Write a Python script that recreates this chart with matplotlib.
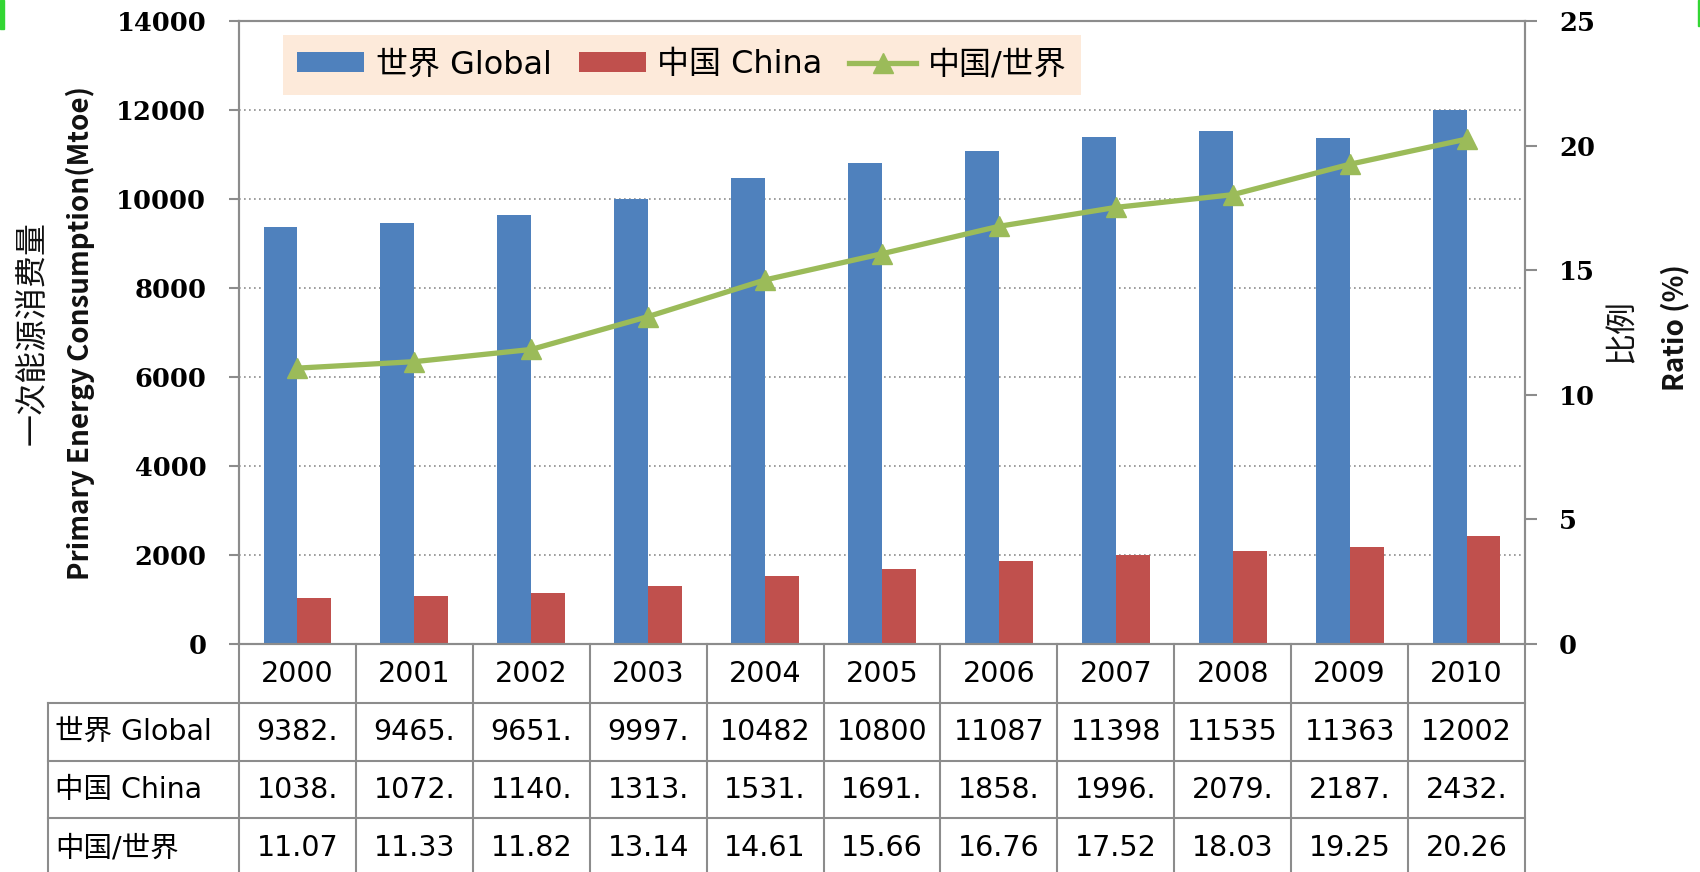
import matplotlib
matplotlib.use("Agg")
import matplotlib.pyplot as plt
from matplotlib.lines import Line2D
from matplotlib.patches import Rectangle

# energy consumption, Mtoe
years = ["2000", "2001", "2002", "2003", "2004", "2005",
         "2006", "2007", "2008", "2009", "2010"]
global_mtoe = [9382, 9465, 9651, 9997, 10482, 10800, 11087, 11398, 11535, 11363, 12002]
china_mtoe = [1038, 1072, 1140, 1313, 1531, 1691, 1858, 1996, 2079, 2187, 2432]
ratio_pct = [11.07, 11.33, 11.82, 13.14, 14.61, 15.66, 16.76, 17.52, 18.03, 19.25, 20.26]
row_names = ["世界 Global", "中国 China", "中国/世界"]
left_ticks = list(range(0, 14001, 2000))
right_ticks = list(range(0, 26, 5))

W, H = 1700, 872
BLUE, RED, GREEN = "#4F81BD", "#C0504D", "#9BBB59"
GRAY = "#8C8C8C"
CJK = ["Noto Sans CJK SC", "DejaVu Sans"]
MIXED = ["DejaVu Sans", "Noto Sans CJK SC"]

plt.rcParams["font.family"] = CJK


def fx(px):
    return px / W


def fy(py):
    return 1 - py / H


AX_L, AX_R, AX_T, AX_B = 239, 1525, 21, 644
col_px = (AX_R - AX_L) / len(years)

fig = plt.figure(figsize=(17, 8.72), dpi=100)
ax = fig.add_axes([fx(AX_L), fy(AX_B), fx(AX_R) - fx(AX_L), fy(AX_T) - fy(AX_B)])
ax2 = ax.twinx()

x = list(range(len(years)))
bw = 0.29
b1 = ax.bar([i - bw for i in x], global_mtoe, bw, align="edge", color=BLUE, zorder=2)
b2 = ax.bar(x, china_mtoe, bw, align="edge", color=RED, zorder=2)
ln, = ax2.plot(x, ratio_pct, color=GREEN, lw=3.8, marker="^", ms=15)

ax.set_xticks([])
ax.set_yticks(left_ticks)
ax2.set_yticks(right_ticks)
ax.yaxis.grid(True, ls=(0, (1, 2)), color=GRAY, lw=1.2)
ax.set_axisbelow(True)

ax.tick_params(axis="y", direction="out", length=7.5, width=1.5, color=GRAY,
               pad=16, labelsize=18.5, labelfontfamily="DejaVu Serif")
ax2.tick_params(axis="y", direction="out", length=8.5, width=1.5, color=GRAY,
                pad=16, labelsize=18.5, labelfontfamily="DejaVu Serif")
for lab in ax.get_yticklabels() + ax2.get_yticklabels():
    lab.set_fontweight("bold")
for a in (ax, ax2):
    for sp in a.spines.values():
        sp.set_color(GRAY)
        sp.set_linewidth(1.5)

ax.set_xlim(-0.5, len(years) - 0.5)
ax.set_ylim(0, 14000)
ax2.set_ylim(0, 25)

# data table under the plot
trans = ax.get_xaxis_transform()


def ay(py):
    return (AX_B - py) / (AX_B - AX_T)


rows_px = [644, 703, 761, 818, 878]
x_left = -0.5 - (AX_L - 48) / col_px
x_right = len(years) - 0.5
tbl = dict(color=GRAY, lw=1.5, transform=trans, clip_on=False)
for py in rows_px[1:4]:
    ax.add_line(Line2D([x_left, x_right], [ay(py), ay(py)], **tbl))
for k in range(len(years) + 1):
    ax.add_line(Line2D([k - 0.5, k - 0.5], [ay(rows_px[0]), ay(rows_px[-1])], **tbl))
ax.add_line(Line2D([x_left, x_left], [ay(rows_px[1]), ay(rows_px[-1])], **tbl))


def cell(v):
    s = str(int(v))
    return s if len(s) >= 5 else s + "."


rows_text = [[cell(v) for v in global_mtoe],
             [cell(v) for v in china_mtoe],
             ["%.2f" % v for v in ratio_pct]]
num_font = dict(family="DejaVu Sans", size=20.5, color="black")
for i, yr in enumerate(years):
    ax.text(i, ay((rows_px[0] + rows_px[1]) / 2), yr, transform=trans,
            ha="center", va="center", **num_font)
for r, vals in enumerate(rows_text):
    yc = ay((rows_px[r + 1] + rows_px[r + 2]) / 2)
    ax.text(-0.5 - (AX_L - 55) / col_px, yc, row_names[r], transform=trans,
            ha="left", va="center", family=MIXED, size=20.5, color="black")
    for i, s in enumerate(vals):
        ax.text(i, yc, s, transform=trans, ha="center", va="center", **num_font)

leg = ax2.legend([b1, b2, ln], row_names, loc="upper left",
                 bbox_to_anchor=(fx(283), fy(35)), bbox_transform=fig.transFigure,
                 ncol=3, frameon=True, fancybox=False, facecolor="#FDEADA",
                 edgecolor="none", framealpha=1, borderaxespad=0, borderpad=0.45,
                 handlelength=2.1, handleheight=0.55, handletextpad=0.35,
                 columnspacing=0.85, prop={"family": MIXED, "size": 23})
leg.get_frame().set_linewidth(0)

# axis titles
fig.text(fx(33), fy(333), "一次能源消费量", rotation=90, ha="center", va="center",
         family=CJK, size=23, color="#111111")
fig.text(fx(80), fy(333), "Primary Energy Consumption(Mtoe)", rotation=90,
         ha="center", va="center", family=CJK, size=20, weight="bold", color="#111111")
fig.text(fx(1622), fy(331), "比例", rotation=90, ha="center", va="center",
         family=CJK, size=23, color="#111111")
fig.text(fx(1675), fy(328), "Ratio (%)", rotation=90, ha="center", va="center",
         family=CJK, size=20, weight="bold", color="#111111")

# green corner marks
fig.add_artist(Rectangle((0, fy(29)), fx(4), fy(0) - fy(29),
                         transform=fig.transFigure, color="#33D633"))
fig.add_artist(Rectangle((fx(1697.5), fy(26)), fx(2.5), fy(0) - fy(26),
                         transform=fig.transFigure, color="#33D633"))

fig.savefig("out.png", dpi=100)
